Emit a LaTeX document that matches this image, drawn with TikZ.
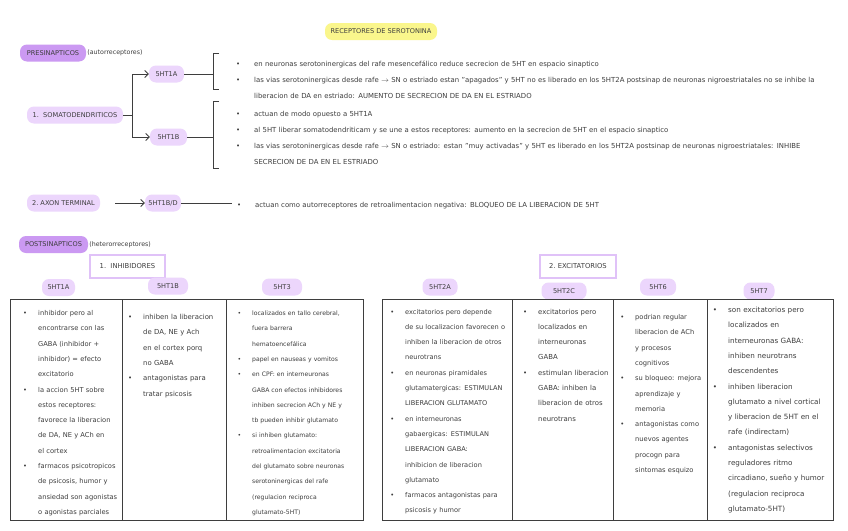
\documentclass[tikz,border=0pt]{standalone}
\usepackage{fontspec}
\setmainfont{DejaVu Sans}
\usepackage{enumitem}
\usetikzlibrary{arrows.meta,positioning}
\definecolor{pilllight}{RGB}{236,214,252}
\definecolor{pilldark}{RGB}{203,153,242}
\definecolor{hiyellow}{RGB}{250,246,140}
\definecolor{inkgray}{RGB}{62,62,62}
\definecolor{boxedge}{RGB}{224,194,248}
\setlist[itemize]{label={\textbullet}, leftmargin=16pt, labelsep=11pt, nosep}
\newcommand{\topfont}{\fontsize{6.9}{15.7}\selectfont}
\newcommand{\cellfont}[1]{\fontsize{#1}{15.3}\selectfont}
\tikzset{
 pill/.style={
 rectangle,
 rounded corners=7pt,
 fill=pilllight,
 text=inkgray,
 inner xsep=3pt,
 inner ysep=0pt,
 minimum height=17pt,
 font=\fontsize{6.6}{8}\selectfont
 },
 darkpill/.style={pill, fill=pilldark},
 titlepill/.style={pill, fill=hiyellow},
 groupbox/.style={
 rectangle,
 draw=boxedge,
 line width=1.6pt,
 fill=white,
 text=inkgray,
 minimum height=23pt,
 font=\fontsize{6.8}{8}\selectfont
 },
 tag/.style={anchor=west, inner sep=0pt, text=inkgray, font=\fontsize{6.3}{8}\selectfont},
 cell/.style={anchor=north west, inner sep=0pt, text=inkgray, align=left},
 link/.style={draw=inkgray, line width=0.8pt},
 linkarrow/.style={link, -{Straight Barb[length=3.5pt, width=7pt]}},
 grid/.style={draw=inkgray, line width=1pt}
}

\begin{document}
\begin{tikzpicture}[x=1pt, y=-1pt]
 \fill[white] (0,0) rectangle (848,530);
 \useasboundingbox (0,0) rectangle (848,530);

 \node[titlepill, minimum width=112pt] (title) at (381,31.5) {RECEPTORES DE SEROTONINA};

 % presinapticos
 \node[darkpill, minimum width=66pt] (pre) at (53,53) {PRESINAPTICOS};
 \node[tag, right=1pt of pre] (pretag) {(autorreceptores)};

 \node[pill, minimum width=96pt] (soma) at (75,115) {1.\ \ SOMATODENDRITICOS};
 \node[pill, minimum width=35pt] (ht1a) at (166.5,74) {5HT1A};
 \node[pill, minimum width=37pt] (ht1b) at (168.5,137) {5HT1B};
 \coordinate (split) at (132,115);
 \draw[link] (soma) -- (split);
 \draw[linkarrow] (split) |- (ht1a);
 \draw[linkarrow] (split) |- (ht1b);

 \coordinate (brA) at (213,74);
 \coordinate (brB) at (213,137);
 \draw[link] (ht1a) -- (brA);
 \draw[link] (ht1b) -- (brB);
 \draw[link] (219,53) -| (213,89) -- (219,89);
 \draw[link] (219,101) -| (213,168) -- (219,168);

 \node[cell, font=\topfont, text width=620pt] (txta) at (236,51) {%
 \begin{itemize}[leftmargin=18pt, labelsep=14pt]
 \item en neuronas serotoninergicas del rafe mesencefálico reduce secrecion de 5HT en espacio sinaptico
 \item las vias serotoninergicas desde rafe $\rightarrow$ SN o estriado estan "apagados" y 5HT no es liberado en los 5HT2A postsinap de neuronas nigroestriatales no se inhibe la\\
 liberacion de DA en estriado: AUMENTO DE SECRECION DE DA EN EL ESTRIADO
 \end{itemize}};

 \node[cell, font=\topfont, text width=620pt] (txtb) at (236,101) {%
 \begin{itemize}[leftmargin=18pt, labelsep=14pt]
 \item actuan de modo opuesto a 5HT1A
 \item al 5HT liberar somatodendriticam y se une a estos receptores: aumento en la secrecion de 5HT en el espacio sinaptico
 \item las vias serotoninergicas desde rafe $\rightarrow$ SN o estriado: estan "muy activadas" y 5HT es liberado en los 5HT2A postsinap de neuronas nigroestriatales: INHIBE\\
 SECRECION DE DA EN EL ESTRIADO
 \end{itemize}};

 % axon
 \node[pill, minimum width=73pt] (axon) at (63.5,203) {2.\ AXON TERMINAL};
 \node[pill, minimum width=36pt] (ht1d) at (163,203) {5HT1B/D};
 \coordinate (axstart) at (115,203);
 \coordinate (axend) at (232,203);
 \draw[linkarrow] (axstart) -- (ht1d);
 \draw[link] (ht1d) -- (axend);
 \node[cell, font=\topfont, text width=620pt] (txtc) at (237,192) {%
 \begin{itemize}[leftmargin=18pt, labelsep=14pt]
 \item actuan como autorreceptores de retroalimentacion negativa: BLOQUEO DE LA LIBERACION DE 5HT
 \end{itemize}};

 % postsinapticos
 \node[darkpill, minimum width=69pt] (post) at (53.5,244.5) {POSTSINAPTICOS};
 \node[tag, right=1pt of post] (posttag) {(heterorreceptores)};
 \node[groupbox, minimum width=75pt] (inhib) at (127.5,266.5) {1.\ \ INHIBIDORES};
 \node[groupbox, minimum width=76pt] (excit) at (578,266.5) {2.\ EXCITATORIOS};

 \node[pill, minimum width=33pt] (h1a) at (58.5,287.5) {5HT1A};
 \node[pill, minimum width=40pt] (h1b) at (168,286) {5HT1B};
 \node[pill, minimum width=40pt] (h3) at (282,287) {5HT3};
 \node[pill, minimum width=35pt] (h2a) at (440,287) {5HT2A};
 \node[pill, minimum width=45pt] (h2c) at (564,291) {5HT2C};
 \node[pill, minimum width=36pt] (h6) at (658,287) {5HT6};
 \node[pill, minimum width=31pt] (h7) at (759,291) {5HT7};

 % tables
 \draw[grid] (10,299) rectangle (363,520);
 \foreach \x in {122,226}
 \draw[grid] (\x,299) -- (\x,520);
 \draw[grid] (382,299) rectangle (833,520);
 \foreach \x in {512,613,707}
 \draw[grid] (\x,299) -- (\x,520);

 \node[cell, font=\cellfont{6.7}, text width=110pt] (c1a) at (22,300) {%
 \begin{itemize}
 \item inhibidor pero al\\ encontrarse con las\\ GABA (inhibidor +\\ inhibidor) = efecto\\ excitatorio
 \item la accion 5HT sobre\\ estos receptores:\\ favorece la liberacion\\ de DA, NE y ACh en\\ el cortex
 \item farmacos psicotropicos\\ de psicosis, humor y\\ ansiedad son agonistas\\ o agonistas parciales
 \end{itemize}};

 \node[cell, font=\cellfont{6.9}, text width=100pt] (c1b) at (127,304) {%
 \begin{itemize}
 \item inhiben la liberacion\\ de DA, NE y Ach\\ en el cortex porq\\ no GABA
 \item antagonistas para\\ tratar psicosis
 \end{itemize}};

 \node[cell, font=\cellfont{6.1}, text width=130pt] (c3) at (236,300) {%
 \begin{itemize}
 \item localizados en tallo cerebral,\\ fuera barrera\\ hematoencefálica
 \item papel en nauseas y vomitos
 \item en CPF: en interneuronas\\ GABA con efectos inhibidores\\ inhiben secrecion ACh y NE y\\ tb pueden inhibir glutamato
 \item si inhiben glutamato:\\ retroalimentacion excitatoria\\ del glutamato sobre neuronas\\ serotoninergicas del rafe\\ (regulacion reciproca\\ glutamato-5HT)
 \end{itemize}};

 \node[cell, font=\cellfont{6.6}, text width=130pt] (c2a) at (389,298.5) {%
 \begin{itemize}
 \item excitatorios pero depende\\ de su localizacion favorecen o\\ inhiben la liberacion de otros\\ neurotrans
 \item en neuronas piramidales\\ glutamatergicas: ESTIMULAN\\ LIBERACION GLUTAMATO
 \item en interneuronas\\ gabaergicas: ESTIMULAN\\ LIBERACION GABA:\\ inhibicion de liberacion\\ glutamato
 \item farmacos antagonistas para\\ psicosis y humor
 \end{itemize}};

 \node[cell, font=\cellfont{6.9}, text width=100pt] (c2c) at (522,298.5) {%
 \begin{itemize}
 \item excitatorios pero\\ localizados en\\ interneuronas\\ GABA
 \item estimulan liberacion\\ GABA: inhiben la\\ liberacion de otros\\ neurotrans
 \end{itemize}};

 \node[cell, font=\cellfont{6.7}, text width=100pt] (c6) at (619,304) {%
 \begin{itemize}
 \item podrian regular\\ liberacion de ACh\\ y procesos\\ cognitivos
 \item su bloqueo: mejora\\ aprendizaje y\\ memoria
 \item antagonistas como\\ nuevos agentes\\ procogn para\\ sintomas esquizo
 \end{itemize}};

 \node[cell, font=\cellfont{7.2}, text width=130pt] (c7) at (712,297) {%
 \begin{itemize}
 \item son excitatorios pero\\ localizados en\\ interneuronas GABA:\\ inhiben neurotrans\\ descendentes
 \item inhiben liberacion\\ glutamato a nivel cortical\\ y liberacion de 5HT en el\\ rafe (indirectam)
 \item antagonistas selectivos\\ reguladores ritmo\\ circadiano, sueño y humor\\ (regulacion reciproca\\ glutamato-5HT)
 \end{itemize}};
\end{tikzpicture}
\end{document}
